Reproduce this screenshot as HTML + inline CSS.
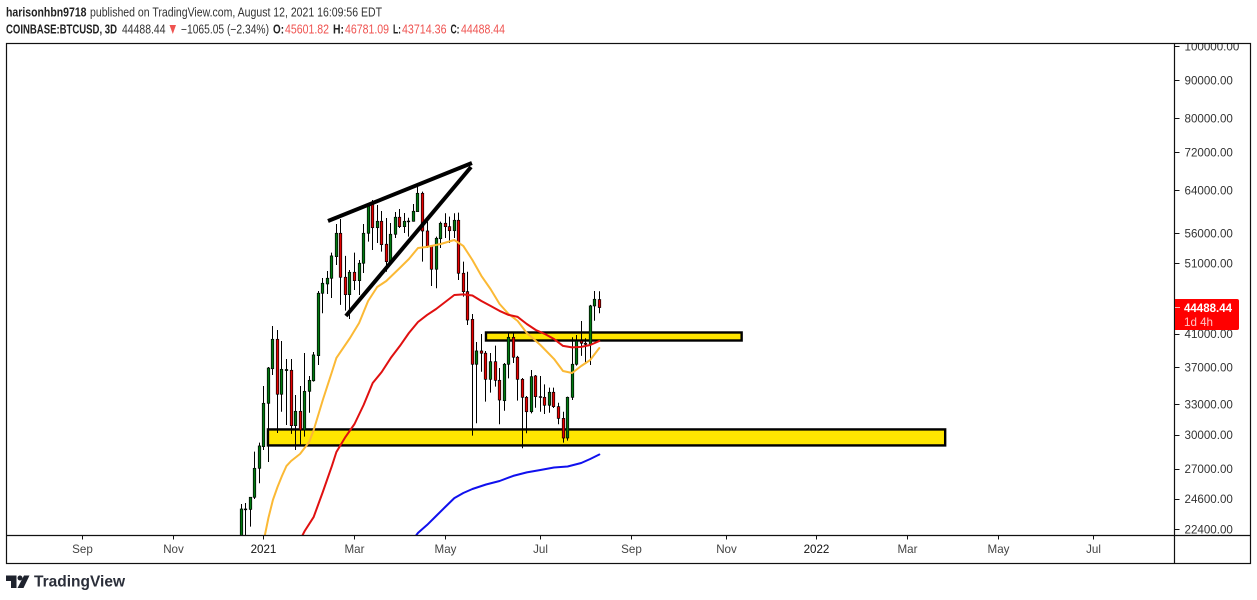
<!DOCTYPE html>
<html lang="en">
<head>
<meta charset="utf-8">
<title>BTCUSD chart</title>
<style>
html,body{margin:0;padding:0;background:#fff;width:1257px;height:600px;overflow:hidden}
svg{display:block;font-family:"Liberation Sans",sans-serif}
</style>
</head>
<body>
<svg id="chart" width="1257" height="600" viewBox="0 0 1257 600" xmlns="http://www.w3.org/2000/svg">
  <defs>
    <clipPath id="plot-clip"><rect x="7" y="44" width="1167.5" height="491"/></clipPath>
    <clipPath id="axis-clip"><rect x="1175" y="44" width="75" height="491"/></clipPath>
  </defs>
  <rect width="1257" height="600" fill="#fff"/>
  <g font-size="12.5">
    <text x="6" y="16.5" font-weight="bold" fill="#222" textLength="80.5" lengthAdjust="spacingAndGlyphs">harisonhbn9718</text>
    <text x="90" y="16.5" fill="#333" textLength="292" lengthAdjust="spacingAndGlyphs">published on TradingView.com, August 12, 2021 16:09:56 EDT</text>
    <text x="6" y="33.5" font-weight="bold" fill="#222" textLength="111" lengthAdjust="spacingAndGlyphs">COINBASE:BTCUSD, 3D</text>
    <text x="122" y="33.5" fill="#333" textLength="43.5" lengthAdjust="spacingAndGlyphs">44488.44</text>
    <polygon points="169.5,25 176,25 172.8,34" fill="#ef5350"/>
    <text x="181" y="33.5" fill="#333" textLength="88" lengthAdjust="spacingAndGlyphs">−1065.05 (−2.34%)</text>
    <text x="273" y="33.5" font-weight="bold" fill="#222" textLength="11" lengthAdjust="spacingAndGlyphs">O:</text>
    <text x="285" y="33.5" fill="#ef5350" textLength="44" lengthAdjust="spacingAndGlyphs">45601.82</text>
    <text x="333" y="33.5" font-weight="bold" fill="#222" textLength="11" lengthAdjust="spacingAndGlyphs">H:</text>
    <text x="345" y="33.5" fill="#ef5350" textLength="44" lengthAdjust="spacingAndGlyphs">46781.09</text>
    <text x="393" y="33.5" font-weight="bold" fill="#222" textLength="8" lengthAdjust="spacingAndGlyphs">L:</text>
    <text x="402" y="33.5" fill="#ef5350" textLength="44.5" lengthAdjust="spacingAndGlyphs">43714.36</text>
    <text x="450.5" y="33.5" font-weight="bold" fill="#222" textLength="9" lengthAdjust="spacingAndGlyphs">C:</text>
    <text x="461" y="33.5" fill="#ef5350" textLength="44" lengthAdjust="spacingAndGlyphs">44488.44</text>
  </g>
  <g id="zones" clip-path="url(#plot-clip)"></g>
  <g id="candles" clip-path="url(#plot-clip)"></g>
  <g id="averages" clip-path="url(#plot-clip)"></g>
  <g id="trends" clip-path="url(#plot-clip)"></g>
  <g id="price-axis"></g>
  <g id="time-axis"></g>
  <g fill="none" stroke="#111" stroke-width="1.2">
    <rect x="6.5" y="43.5" width="1244" height="520"/>
    <line x1="6.5" y1="535.5" x2="1250.5" y2="535.5"/>
    <line x1="1174.5" y1="43.5" x2="1174.5" y2="563.5"/>
  </g>
  <g>
    <path d="M1175 299H1237a2 2 0 0 1 2 2V328a2 2 0 0 1-2 2H1175Z" fill="#ff0000"/>
    <line x1="1175" y1="307.5" x2="1180" y2="307.5" stroke="#ffb3b3" stroke-width="1"/>
    <text x="1184" y="312" font-size="12" font-weight="bold" fill="#fff" textLength="48" lengthAdjust="spacingAndGlyphs">44488.44</text>
    <text x="1184" y="326" font-size="12" fill="#ffc4c4" textLength="29" lengthAdjust="spacingAndGlyphs">1d 4h</text>
  </g>
  <g>
    <path d="M6 575.5H16.5V588H11V581H6ZM24 575.5H29.5L23.5 588H17.5Z" fill="#1e222d"/>
    <circle cx="20" cy="578" r="2.5" fill="#1e222d"/>
    <text x="34" y="586.7" font-size="16" font-weight="bold" fill="#2a2e39" textLength="91" lengthAdjust="spacingAndGlyphs">TradingView</text>
  </g>
</svg>
<script>
// Candle values, one entry per 3D bar
const opens = [21325,23800,23810,24720,27040,28920,33070,36810,40320,34010,36600,36630,30860,32260,30450,34320,35460,38330,46500,47860,48710,52080,55990,48860,46300,49620,48350,51030,55990,61310,56970,58110,54120,51280,55820,58840,57150,58060,58110,59870,63370,56390,53720,50090,55060,57750,57150,56440,58290,49470,46730,42890,37320,38890,38620,35620,37620,35510,33340,37320,40570,38140,35620,33690,32220,35990,33760,33690,32870,34220,32730,31560,29700,33690,37320,40110,39830,39700,44710,45601.82];
const highs = [24210,24285,24740,28470,29280,34890,37010,42020,41500,40110,37940,37940,33935,34890,38650,35990,38770,46830,48750,49820,52730,57630,58520,52200,49970,52730,51550,57630,61500,62070,61120,60000,58700,57800,59810,60370,59630,58760,61310,64690,63690,58040,54000,55410,58040,59570,58950,59570,59690,51280,49710,43610,39990,40990,38890,38650,39530,36890,37470,41280,41250,38300,35760,33830,36660,36100,35990,35070,34710,34710,33130,32220,33760,40570,40860,42670,40450,44850,46830,46781.09];
const lows = [21000,21150,22570,24590,25816,28620,27570,36100,30170,32220,30925,30080,28620,28980,29830,32120,35360,37240,43700,46400,45820,50760,44850,44060,42940,46970,46250,49510,54560,53170,54340,52890,49710,51080,55180,56920,56040,55410,58040,59810,51280,53500,47560,47220,53500,55180,54340,55180,48450,46010,42150,29920,31090,36470,33240,34180,34820,30990,32320,35720,37470,33340,28770,30140,32060,32620,32220,31990,32120,32590,30990,29280,29460,33410,37160,38300,37440,37240,42710,43714.36];
const closes = [23840,23840,24720,27040,28980,33070,36890,40320,34010,36740,36720,30860,32260,30450,34320,35510,38415,46500,47960,48710,52200,55990,48860,46300,49620,48350,51030,55990,60930,56970,58110,54050,51280,55820,58840,57150,58110,58160,59940,63370,56390,53720,50090,55130,57750,57150,56440,58290,49470,46730,42800,37320,38890,38620,35620,37620,35510,33410,37320,40570,38140,35620,33690,32220,35910,33760,33690,32870,34220,32730,31560,29700,33690,37320,40110,39830,39700,44710,45640,44488.44];

// Moving averages: bar numbers and their values
const yellowBars = [5,6,7,8,9,10,11,13,15,16,18,20,21,24,26,28,30,32,35,37,39,41,44,47,49,51,53,55,57,59,61,63,66,69,71,73,75,77,79];
const yellowValues = [21660,23180,24510,25520,26410,27240,27660,28270,29340,30450,33410,36440,38060,40480,42410,45400,47410,48300,50290,51710,53500,53670,54170,54840,53840,51550,49060,47120,44980,43610,42670,41120,39620,37940,36550,36320,37120,37820,39250];
const redBars = [13,14,16,18,20,21,23,25,27,29,31,33,35,37,39,41,43,45,47,49,51,53,55,57,59,61,63,65,67,69,71,73,75,77,79];
const redValues = [21660,22270,23260,25130,27240,28440,29800,31020,32900,35220,36440,38060,39500,41120,42540,43480,44290,45260,46250,46330,46180,45400,44710,44020,43480,43210,42280,41500,40990,40360,39500,39320,39380,39620,40110];
const blueBars = [38,39,41,43,45,47,49,51,54,57,60,63,66,69,72,75,77,79];
const blueValues = [21730,22140,22690,23330,23985,24660,25050,25360,25720,26000,26410,26700,26900,27110,27190,27490,27830,28220];

// Axis labels
const priceTicks = [100000,90000,80000,72000,64000,56000,51000,41000,37000,33000,30000,27000,24600,22400];
const timeTickLabels = ['Sep','Nov','2021','Mar','May','Jul','Sep','Nov','2022','Mar','May','Jul'];
const timeTickBars = [-35,-15,5,25,45,66,86,107,127,147,167,188];

// Drawings anchored to bar number and price
const zoneStartBars = [5.9,54];
const zoneEndBars = [155.3,110.4];
const zoneTopPrices = [30500,41180];
const zoneBottomPrices = [29025,40170];
const trendStartBars = [19.15,23.1];
const trendStartPrices = [58160,43340];
const trendEndBars = [50.9,50.7];
const trendEndPrices = [69610,68750];

function xOfBar(bar){ return 241.2 + 4.533 * bar; }
function yOfPrice(price){ return 46 + 322.9 * Math.log(100000 / price); }

const NS = 'http://www.w3.org/2000/svg';
function make(tag, parentId, props){
  const el = document.createElementNS(NS, tag);
  for (const k in props) el.setAttribute(k, props[k]);
  document.getElementById(parentId).appendChild(el);
  return el;
}

zoneStartBars.forEach(function(start, i){
  const top = yOfPrice(zoneTopPrices[i]);
  const bottom = yOfPrice(zoneBottomPrices[i]);
  const zone = make('rect', 'zones', {x:xOfBar(start), y:top, width:xOfBar(zoneEndBars[i]) - xOfBar(start), height:bottom - top, fill:'#ffe600', stroke:'#000', 'stroke-width':2.4});
  
  
});

opens.forEach(function(open, i){
  const cx = Math.floor(xOfBar(i)) + 0.5;
  const up = closes[i] >= open;
  const wick = make('line', 'candles', {x1:cx, x2:cx, y1:yOfPrice(highs[i]), y2:yOfPrice(lows[i]), stroke:'#000', 'stroke-width':1});
  
  
  const top = yOfPrice(Math.max(open, closes[i]));
  const bottom = yOfPrice(Math.min(open, closes[i]));
  const body = make('rect', 'candles', {x:cx - 1.25, y:top, width:2.5, height:Math.max(bottom - top, 0.8), fill:up ? '#007a10' : '#e60000', stroke:'#000', 'stroke-width':0.7});
  
  
});

function drawAverage(bars, values, color, name){
  const pts = bars.map(function(b, i){ return xOfBar(b).toFixed(1) + ',' + yOfPrice(values[i]).toFixed(1); }).join(' ');
  const line = make('polyline', 'averages', {points:pts, fill:'none', stroke:color, 'stroke-width':2, 'stroke-linejoin':'round', 'stroke-linecap':'round'});
  
  
}
drawAverage(yellowBars, yellowValues, '#fbb935', 'moving-average-yellow');
drawAverage(redBars, redValues, '#e01010', 'moving-average-red');
drawAverage(blueBars, blueValues, '#1010ee', 'moving-average-blue');

trendStartBars.forEach(function(start, i){
  const trend = make('line', 'trends', {x1:xOfBar(start), y1:yOfPrice(trendStartPrices[i]), x2:xOfBar(trendEndBars[i]), y2:yOfPrice(trendEndPrices[i]), stroke:'#000', 'stroke-width':4});
  
  
});

priceTicks.forEach(function(price){
  const y = yOfPrice(price);
  const tick = make('line', 'price-axis', {x1:1175, x2:1179.5, y1:Math.round(y) + 0.5, y2:Math.round(y) + 0.5, stroke:'#111', 'stroke-width':1});
  
  
  const label = make('text', 'price-axis', {x:1184.5, y:y + 4.3, 'font-size':11.6, fill:'#333', 'clip-path':'url(#axis-clip)'});
  label.textContent = price.toFixed(2);
  
  
});

timeTickLabels.forEach(function(text, i){
  const x = Math.floor(xOfBar(timeTickBars[i])) + 0.5;
  const tick = make('line', 'time-axis', {x1:x, x2:x, y1:535.5, y2:539.5, stroke:'#111', 'stroke-width':1});
  
  
  const isYear = /^\d+$/.test(text);
  const label = make('text', 'time-axis', {x:x, y:553, 'font-size':11.6, 'text-anchor':'middle', fill:isYear ? '#111' : '#444'});
  label.textContent = text;
  
  
});
</script>
</body>
</html>
